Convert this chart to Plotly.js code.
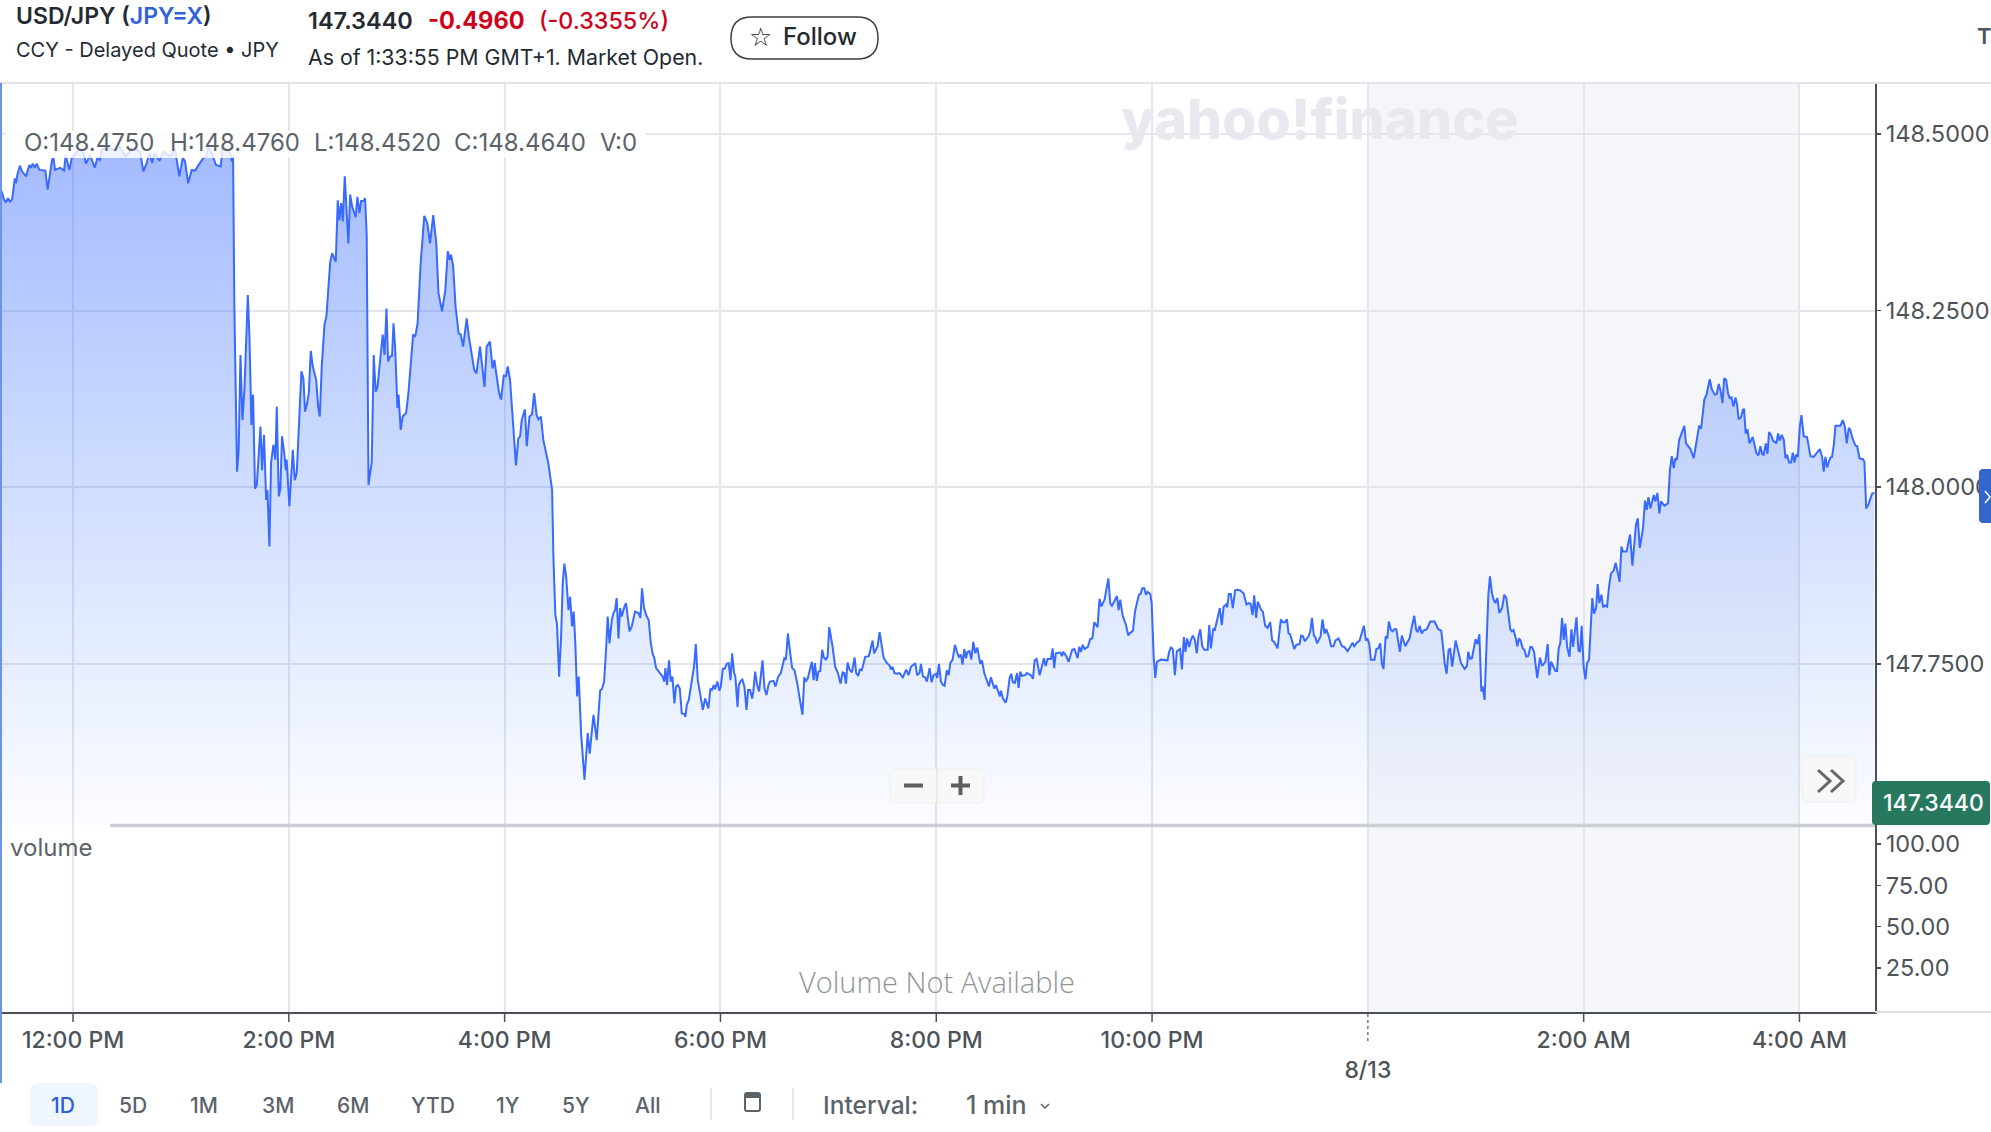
<!DOCTYPE html>
<html><head><meta charset="utf-8">
<script src="https://cdn.plot.ly/plotly-3.0.1.min.js"></script>
<style>html,body{margin:0;padding:0;background:#fff;overflow:hidden}</style>
</head><body><div id="chart" style="width:1991px;height:1132px"></div>
<script>
// [minutes after 12:00 PM, price]
const sessionNoon = [[-39.7,148.419],[-38.4,148.407],[-37.3,148.403],[-36.2,148.409],[-35.0,148.404],[-33.9,148.407],[-32.4,148.437],[-31.7,148.430],[-31.0,148.442],[-29.5,148.455],[-28.4,148.447],[-26.1,148.440],[-24.3,148.456],[-23.5,148.452],[-22.4,148.458],[-21.3,148.452],[-20.2,148.458],[-18.7,148.449],[-15.4,148.448],[-14.1,148.421],[-11.7,148.463],[-10.9,148.466],[-10.0,148.449],[-7.2,148.452],[-5.0,148.448],[-4.1,148.470],[-2.0,148.449],[-0.7,148.466],[0.6,148.470],[3.0,148.478],[5.8,148.473],[7.2,148.458],[9.5,148.470],[12.1,148.452],[13.5,148.466],[15.0,148.463],[15.9,148.478],[18.7,148.480],[22.4,148.478],[26.1,148.481],[29.5,148.468],[32.6,148.480],[37.3,148.475],[39.1,148.447],[41.0,148.459],[42.3,148.473],[44.1,148.459],[45.1,148.473],[48.0,148.462],[50.3,148.475],[54.0,148.468],[56.7,148.478],[59.1,148.440],[61.0,148.466],[62.3,148.461],[64.0,148.430],[66.0,148.449],[67.9,148.448],[70.6,148.459],[72.5,148.466],[74.0,148.468],[75.3,148.482],[77.1,148.473],[79.5,148.456],[82.1,148.454],[83.2,148.482],[87.3,148.473],[88.3,148.461],[89.0,148.468]];
const sessionDrop = [[89.7,148.256],[91.2,148.022],[92.1,148.053],[93.1,148.187],[94.2,148.095],[95.3,148.138],[97.2,148.272],[98.1,148.213],[99.2,148.088],[100.1,148.131],[101.2,147.998],[102.2,148.003],[104.2,148.086],[105.1,148.024],[106.2,148.074],[107.4,147.982],[108.1,147.996],[109.2,147.916],[110.1,148.034],[111.4,148.060],[112.5,148.039],[113.3,148.114],[114.4,147.987],[115.3,147.998],[116.2,148.072],[117.4,148.050],[118.3,148.024],[118.8,148.039],[120.3,147.973],[122.2,148.053],[123.3,148.010],[124.4,148.020],[127.0,148.164],[128.1,148.154],[129.0,148.107],[130.2,148.119],[131.1,148.133],[132.2,148.193],[133.3,148.171],[135.2,148.152],[136.3,148.114],[137.2,148.100],[138.3,148.171],[139.8,148.230],[140.9,148.242],[143.0,148.319],[144.1,148.331],[146.1,148.319],[147.2,148.406],[148.1,148.378],[149.1,148.402],[150.0,148.376],[151.1,148.440],[153.1,148.345],[154.1,148.414],[155.2,148.397],[157.2,148.382],[158.1,148.411],[159.3,148.388],[160.2,148.405],[161.5,148.405],[162.4,148.409],[163.3,148.357],[164.3,148.003],[166.1,148.036],[167.2,148.187],[168.3,148.135],[169.3,148.142],[170.8,148.185],[172.2,148.216],[173.2,148.187],[174.3,148.253],[175.2,148.178],[176.3,148.185],[177.4,148.186],[178.2,148.232],[179.1,148.199],[180.4,148.112],[181.0,148.131],[182.2,148.081],[183.3,148.100],[185.2,148.105],[186.5,148.133],[189.1,148.216],[190.3,148.213],[191.6,148.232],[193.3,148.317],[195.3,148.384],[197.0,148.374],[198.5,148.345],[200.3,148.385],[202.0,148.345],[203.2,148.275],[205.2,148.249],[207.0,148.279],[208.4,148.334],[209.4,148.322],[210.2,148.329],[211.4,148.312],[212.7,148.256],[214.4,148.218],[215.6,148.216],[216.9,148.199],[218.9,148.239],[220.1,148.213],[223.1,148.166],[224.3,148.161],[226.3,148.199],[228.8,148.142],[230.0,148.199],[231.8,148.206],[233.3,148.168],[234.3,148.180],[236.8,148.135],[238.0,148.124],[239.5,148.158],[240.7,148.157],[241.7,148.171],[243.0,148.152],[244.2,148.105],[246.3,148.031],[247.6,148.069],[248.6,148.072],[249.5,148.095],[251.3,148.110],[252.3,148.058],[253.8,148.100],[255.2,148.103],[256.4,148.133],[257.8,148.102],[258.8,148.096],[260.2,148.100],[261.5,148.067],[264.3,148.034],[265.6,148.010],[266.4,147.996]];
const sessionLow = [[267.1,147.902],[268.2,147.819],[269.1,147.807],[270.3,147.732],[271.4,147.789],[272.3,147.864],[273.2,147.892],[274.2,147.874],[275.5,147.826],[276.4,147.845],[277.5,147.803],[278.4,147.824],[279.3,147.779],[280.3,147.704],[281.2,147.732],[282.5,147.652],[284.4,147.586],[286.2,147.652],[287.3,147.623],[289.4,147.678],[291.2,147.642],[293.1,147.712],[294.2,147.715],[295.3,147.725],[296.4,147.770],[297.3,147.817],[298.3,147.779],[299.6,147.812],[300.5,147.822],[301.4,147.826],[302.3,147.843],[303.3,147.786],[304.2,147.829],[305.1,147.817],[306.6,147.831],[307.5,147.836],[309.4,147.796],[310.7,147.803],[312.5,147.824],[314.4,147.822],[315.5,147.815],[316.4,147.857],[317.5,147.829],[319.0,147.817],[320.1,147.812],[321.3,147.779],[322.4,147.763],[323.1,147.760],[324.2,147.744],[326.4,147.737],[327.9,147.732],[328.7,147.725],[329.4,147.744],[330.3,147.720],[331.4,147.755],[332.4,147.725],[333.3,147.732],[334.4,147.694],[335.3,147.718],[336.3,147.720],[337.4,147.715],[338.5,147.680],[340.0,147.679],[340.5,147.675],[341.3,147.692],[342.4,147.699],[343.5,147.718],[344.6,147.741],[345.3,147.746],[346.3,147.778],[347.4,147.727],[348.7,147.708],[350.2,147.685],[351.5,147.701],[353.3,147.687],[354.4,147.715],[355.2,147.713],[356.3,147.720],[356.9,147.714],[358.3,147.725],[359.4,147.712],[360.2,147.718],[361.3,147.743],[362.4,147.743],[363.5,147.750],[364.6,147.751],[365.6,147.727],[366.5,147.765],[367.6,147.737],[368.3,147.732],[369.5,147.689],[370.2,147.720],[371.3,147.726],[372.2,147.728],[373.3,147.718],[374.5,147.685],[375.4,147.713],[376.5,147.713],[377.6,147.701],[378.3,147.711],[379.3,147.739],[380.4,147.720],[381.5,147.711],[383.4,147.755],[384.5,147.715],[385.6,147.706],[386.7,147.720],[387.6,147.725],[389.5,147.726],[390.6,147.718],[392.1,147.732]];
const sessionEvening = [[393.6,147.737],[395.5,147.758],[396.4,147.756],[397.5,147.793],[398.8,147.765],[399.9,147.744],[401.2,147.741],[402.9,147.720],[404.3,147.697],[405.6,147.678],[406.6,147.731],[407.5,147.725],[408.6,147.730],[410.8,147.753],[411.8,147.727],[412.5,147.751],[413.6,147.726],[414.5,147.739],[415.5,147.740],[416.6,147.770],[417.5,147.759],[418.6,147.756],[419.6,147.760],[420.5,147.802],[422.3,147.775],[423.8,147.746],[425.3,147.737],[426.8,147.722],[427.9,147.738],[428.8,147.737],[429.8,147.722],[430.7,147.752],[431.8,147.742],[433.1,147.738],[434.6,147.759],[435.5,147.737],[436.6,147.733],[437.5,147.742],[438.6,147.741],[440.5,147.760],[442.5,147.761],[444.6,147.783],[445.5,147.765],[447.4,147.775],[448.5,147.795],[449.8,147.770],[450.7,147.759],[452.6,147.751],[454.0,147.748],[454.8,147.742],[455.7,147.746],[456.8,147.737],[458.1,147.736],[459.6,147.737],[461.4,147.731],[463.3,147.742],[464.6,147.734],[465.9,147.746],[468.3,147.751],[469.4,147.734],[470.7,147.737],[471.5,147.750],[472.6,147.732],[473.9,147.731],[474.8,147.725],[476.3,147.744],[477.4,147.724],[478.5,147.734],[480.0,147.736],[480.5,147.730],[481.5,147.750],[482.6,147.725],[483.7,147.720],[484.6,147.719],[485.9,147.741],[486.9,147.734],[487.8,147.751],[489.1,147.756],[490.4,147.777],[491.5,147.767],[492.6,147.760],[493.7,147.763],[494.6,147.749],[495.6,147.771],[496.5,147.758],[497.4,147.767],[498.5,147.768],[499.5,147.756],[500.6,147.781],[501.7,147.765],[502.8,147.773],[504.5,147.750],[505.4,147.755],[506.7,147.737],[507.8,147.728],[509.3,147.718],[510.4,147.731],[512.3,147.715],[513.2,147.720],[514.3,147.711],[515.4,147.704],[516.0,147.712],[517.1,147.701],[518.6,147.695],[519.5,147.704],[520.8,147.730],[521.7,147.736],[522.6,147.724],[523.7,147.723],[524.9,147.737],[525.8,147.716],[526.7,147.739],[527.6,147.733],[529.5,147.734],[530.4,147.737],[532.6,147.734],[533.8,147.729],[534.7,147.755],[535.8,147.757],[537.5,147.734],[539.0,147.749],[539.9,147.758],[540.8,147.747],[541.9,147.757],[543.8,147.757],[544.7,147.772],[545.6,147.744],[546.5,147.765],[549.0,147.766],[549.9,147.761],[550.6,147.767],[552.3,147.761],[553.6,147.753],[555.6,147.770],[556.8,147.771],[558.6,147.758],[559.5,147.774],[560.5,147.767],[561.4,147.777],[562.5,147.771],[564.3,147.774],[565.6,147.785],[566.8,147.786],[567.9,147.809],[569.7,147.802],[570.8,147.842],[571.8,147.831],[573.6,147.841],[575.7,147.871],[576.8,147.835],[577.7,147.832],[578.6,147.836],[580.5,147.846],[581.4,147.826],[582.3,147.841],[583.6,147.819],[585.5,147.805],[586.8,147.790],[587.5,147.793],[589.4,147.797],[590.5,147.824],[592.7,147.848],[593.6,147.849],[594.6,147.857],[595.7,147.857],[596.6,147.848],[597.5,147.852],[599.0,147.849],[599.8,147.836]];
const sessionNight = [[600.9,147.760],[601.8,147.730],[602.7,147.753],[604.9,147.756],[608.6,147.755],[609.5,147.767],[610.6,147.774],[611.6,147.770],[612.7,147.734],[613.8,147.768],[615.6,147.771],[616.6,147.742],[617.7,147.788],[618.6,147.767],[619.5,147.786],[620.7,147.774],[621.6,147.784],[622.7,147.790],[623.8,147.784],[624.9,147.765],[625.8,147.789],[626.8,147.799],[627.9,147.775],[629.0,147.770],[630.9,147.770],[631.8,147.805],[632.7,147.772],[634.0,147.799],[634.9,147.798],[636.8,147.822],[637.7,147.829],[638.8,147.805],[639.8,147.831],[641.2,147.834],[641.8,147.830],[642.7,147.849],[643.8,147.849],[644.9,147.829],[646.2,147.854],[647.5,147.855],[649.0,147.854],[650.9,147.850],[652.5,147.834],[653.8,147.836],[654.8,147.835],[655.9,147.819],[656.8,147.847],[657.9,147.815],[658.8,147.838],[660.5,147.827],[661.6,147.824],[662.9,147.804],[664.2,147.801],[665.7,147.809],[666.8,147.783],[667.9,147.781],[669.8,147.772],[671.6,147.813],[672.6,147.809],[673.9,147.809],[675.0,147.813],[675.9,147.793],[676.8,147.792],[679.1,147.771],[680.2,147.777],[682.0,147.778],[682.9,147.790],[683.9,147.789],[685.0,147.782],[687.0,147.789],[688.0,147.796],[688.9,147.815],[690.0,147.790],[690.9,147.787],[691.8,147.779],[693.7,147.789],[694.8,147.813],[695.9,147.793],[696.9,147.799],[698.3,147.789],[699.6,147.775],[700.9,147.775],[701.9,147.783],[703.7,147.786],[705.6,147.775],[706.9,147.774],[708.7,147.768],[710.2,147.774],[711.5,147.780],[712.4,147.775],[713.9,147.780],[715.4,147.783],[716.7,147.793],[717.8,147.804],[718.9,147.783],[719.8,147.786],[720.8,147.778],[721.7,147.756],[723.7,147.756],[724.7,147.771],[725.8,147.772],[726.9,147.779],[727.8,147.750],[728.7,147.743],[729.9,147.789],[730.8,147.786],[731.7,147.810],[732.8,147.798],[733.8,147.796],[734.7,147.799],[735.8,147.799],[736.9,147.782],[737.8,147.767],[738.9,147.790],[739.9,147.782],[740.8,147.775],[742.3,147.782],[743.2,147.786],[744.5,147.803],[745.8,147.818],[746.9,147.798],[747.7,147.795],[748.8,147.804],[749.9,147.793],[751.0,147.797],[752.8,147.799],[754.7,147.810],[757.1,147.810],[759.1,147.799],[760.8,147.797],[761.7,147.777],[762.7,147.751],[763.8,147.736],[764.9,147.770],[765.8,147.771],[766.9,147.746],[768.8,147.783],[769.9,147.770],[771.8,147.751],[773.8,147.743],[775.1,147.747],[775.8,147.767],[776.9,147.757],[777.9,147.758],[779.9,147.785],[781.0,147.778],[782.0,147.792],[783.1,147.711],[783.8,147.718],[784.9,147.699],[786.4,147.812],[787.0,147.848],[787.9,147.874],[789.0,147.850],[789.9,147.841],[790.9,147.836],[792.0,147.843],[793.1,147.822],[794.6,147.829],[795.9,147.848],[797.0,147.843],[798.1,147.824],[799.2,147.799],[800.1,147.796],[801.0,147.798],[802.3,147.786],[803.1,147.775],[804.0,147.786],[804.9,147.783],[806.1,147.772],[807.0,147.770],[808.1,147.760],[809.2,147.761],[810.3,147.774],[811.2,147.774],[812.4,147.767],[814.2,147.730],[815.7,147.759]];
const sessionDawn = [[816.9,147.747],[818.7,147.753],[820.0,147.778],[820.9,147.734],[821.9,147.753],[824.3,147.740],[825.2,147.740],[826.1,147.772],[827.0,147.779],[828.0,147.815],[828.9,147.784],[829.8,147.807],[830.8,147.774],[832.1,147.760],[833.2,147.799],[834.1,147.774],[836.0,147.816],[837.1,147.769],[838.0,147.767],[838.9,147.804],[840.0,147.746],[841.0,147.728],[841.9,147.751],[843.0,147.756],[844.8,147.843],[845.8,147.821],[846.9,147.829],[847.8,147.863],[848.7,147.836],[849.9,147.848],[850.8,147.830],[851.9,147.833],[853.0,147.831],[854.1,147.859],[855.2,147.878],[856.7,147.882],[857.8,147.893],[860.0,147.866],[861.0,147.916],[861.9,147.909],[863.9,147.909],[865.8,147.933],[867.1,147.889],[869.1,147.947],[870.1,147.956],[871.2,147.914],[873.0,147.942],[874.1,147.981],[875.1,147.968],[876.0,147.986],[877.1,147.970],[879.0,147.989],[879.9,147.980],[881.0,147.992],[882.1,147.963],[883.0,147.980],[884.9,147.974],[886.9,147.977],[888.0,148.025],[889.0,148.044],[890.1,148.027],[891.0,148.041],[891.9,148.039],[893.1,148.067],[894.2,148.074],[896.0,148.087],[896.9,148.062],[899.4,148.054],[901.2,148.041],[904.2,148.087],[905.3,148.083],[907.1,148.124],[908.3,148.131],[910.1,148.153],[911.2,148.139],[912.9,148.131],[914.0,148.132],[915.1,148.146],[916.0,148.138],[917.2,148.119],[918.1,148.154],[919.2,148.152],[920.3,148.133],[921.2,148.126],[922.2,148.127],[923.3,148.114],[924.4,148.127],[925.3,148.117],[926.2,148.096],[927.5,148.099],[928.6,148.110],[929.2,148.110],[930.1,148.076],[931.1,148.082],[932.2,148.062],[934.0,148.071],[936.1,148.048],[937.2,148.045],[938.3,148.058],[939.2,148.047],[940.1,148.046],[941.3,148.062],[942.2,148.047],[943.1,148.078],[944.2,148.074],[945.3,148.066],[947.2,148.062],[948.1,148.076],[949.0,148.066],[950.2,148.074],[951.3,148.067],[952.2,148.041],[953.1,148.046],[954.2,148.035],[955.3,148.035],[956.3,148.049],[957.2,148.035],[958.1,148.046],[959.1,148.043],[960.2,148.086],[961.1,148.102],[962.4,148.072],[964.2,148.071],[966.1,148.044],[967.9,148.043],[970.4,148.050],[971.3,148.054],[972.6,148.043],[973.5,148.022],[974.4,148.043],[975.4,148.028],[977.2,148.042],[978.1,148.043],[979.1,148.060],[980.0,148.087],[982.8,148.087],[984.1,148.095],[985.2,148.086],[986.3,148.062],[987.4,148.084],[988.3,148.081],[989.5,148.069],[991.1,148.059],[992.1,148.058],[993.4,148.041],[994.3,148.040],[995.2,148.040],[996.1,148.036],[997.1,147.970],[998.4,147.976],[1000.4,147.991],[1001.7,147.992]];

const priceTicks = [148.5, 148.25, 148.0, 147.75];
const volumeTicks = [100, 75, 50, 25];
const timeTickMinutes = [0, 120, 240, 360, 480, 600, 720, 840, 960];
const timeTickLabels = ['12:00 PM','2:00 PM','4:00 PM','6:00 PM','8:00 PM','10:00 PM','<br>8/13','2:00 AM','4:00 AM'];
const rangeButtons = [['5D',133],['1M',204],['3M',278],['6M',353],['YTD',433],['1Y',508],['5Y',576],['All',647]];
const ohlc = [['O:148.4750',24],['H:148.4760',170],['L:148.4520',314],['C:148.4640',454],['V:0',600]];

const BASE = Date.UTC(2025, 7, 12, 12, 0, 0);
const toDate = m => new Date(BASE + m * 60000).toISOString();
const tape = [].concat(sessionNoon, sessionDrop, sessionLow, sessionEvening, sessionNight, sessionDawn);

const W = 1991, H = 1132;
const px = x => x / W, py = y => 1 - y / H;
const FONT = 'Inter, "Noto Sans", sans-serif';
const INK = '#4d5359', GRID = '#e4e6eb', AXIS = '#4a4f57';

function rr(x0, y0, x1, y1, r) {
  const X = px, Y = py;
  return `M${X(x0 + r)},${Y(y0)} L${X(x1 - r)},${Y(y0)} Q${X(x1)},${Y(y0)} ${X(x1)},${Y(y0 + r)} L${X(x1)},${Y(y1 - r)} Q${X(x1)},${Y(y1)} ${X(x1 - r)},${Y(y1)} L${X(x0 + r)},${Y(y1)} Q${X(x0)},${Y(y1)} ${X(x0)},${Y(y1 - r)} L${X(x0)},${Y(y0 + r)} Q${X(x0)},${Y(y0)} ${X(x0 + r)},${Y(y0)} Z`;
}
function poly(points) {
  return 'M' + points.map(p => px(p[0]) + ',' + py(p[1])).join(' L');
}
const pRect = (d, fill, line, lw, layer) => ({type:'path', xref:'paper', yref:'paper', path:d, fillcolor:fill || 'rgba(0,0,0,0)', line:{color:line || 'rgba(0,0,0,0)', width:lw || 0}, layer:layer || 'above'});
const pLine = (x0, y0, x1, y1, color, w, dash, layer) => ({type:'line', xref:'paper', yref:'paper', x0:px(x0), y0:py(y0), x1:px(x1), y1:py(y1), line:{color, width:w, dash:dash || 'solid'}, layer:layer || 'above'});

const text = (t, x, y, size, color, opt) => {
  const o = opt || {};
  const shift = (o.xanchor || 'left') === 'left' ? 2.5 : 0;
  return Object.assign({xref:'paper', yref:'paper', x:px(x - shift), y:py(y), xanchor:'left', yanchor:'middle', text:t, showarrow:false, font:{family:FONT, size, color}}, o);
};
const weighted = (t, x, y, size, color, weight, anchor) => { const a = text(t, x, y, size, color, {xanchor:anchor || 'left'}); a.font.weight = weight; return a; };

const shapes = [
  {type:'rect', xref:'x', yref:'paper', x0:toDate(720), x1:toDate(960), y0:py(83), y1:py(1012), fillcolor:'#f5f6fa', line:{width:0}, layer:'below'},
  pLine(0, 83, W, 83, '#e2e4e9', 2),
  pLine(1875, 1012, W, 1012, '#dcdee3', 2),
  pLine(1, 83, 1, 1083, '#3b6fe0', 1.5),
  pLine(110, 825.5, 1875, 825.5, '#cbced2', 3.5),
  pRect(`M${px(5)},${py(131)} L${px(646)},${py(131)} L${px(646)},${py(158)} L${px(5)},${py(158)} Z`, 'rgba(255,255,255,0.82)'),
  // zoom buttons
  pRect(rr(890, 769, 984, 803, 4), '#f8f8f8', '#efefef', 1),
  pLine(937, 769, 937, 803, '#e6e6e6', 1.5),
  pLine(904, 785.5, 923, 785.5, '#5e5e5e', 4),
  pLine(951, 785.5, 970, 785.5, '#5e5e5e', 4),
  pLine(960.5, 776, 960.5, 795, '#5e5e5e', 4),
  // scroll-to-end button
  pRect(rr(1802, 757, 1856, 802, 6), '#f8f8f8', '#efefef', 1),
  pRect(poly([[1818, 770], [1830, 781], [1818, 792]]), null, '#666', 3),
  pRect(poly([[1831, 770], [1843, 781], [1831, 792]]), null, '#666', 3),
  // current price tag and side tab
  pRect(rr(1872, 781, 1990, 825, 4), '#27785f'),
  pRect(rr(1979, 469, 2000, 523, 4), '#3366cc'),
  pRect(poly([[1985, 491], [1990, 497], [1985, 503]]), null, '#fff', 1.5),
  // follow button
  pRect(rr(731, 17, 878, 59, 21), '#fff', '#3a3f45', 1.5),
  // bottom toolbar
  pRect(rr(30, 1083, 98, 1126, 8), '#f0f6ff'),
  pLine(711, 1088, 711, 1120, '#e0e1e4', 1.5),
  pLine(793, 1088, 793, 1120, '#e0e1e4', 1.5),
  pRect(rr(745, 1093, 760, 1111, 2), null, '#5b636a', 2),
  pRect(rr(745, 1093, 760, 1098, 1), '#5b636a'),
  pRect(poly([[1041, 1104], [1045, 1108], [1049, 1104]]), null, '#5b636a', 1.5)
];
// x-axis tick marks; the day boundary uses a dotted mark
timeTickMinutes.forEach(m => {
  const mid = m === 720;
  shapes.push({type:'line', xref:'x', yref:'paper', x0:toDate(m), x1:toDate(m), y0:py(mid ? 1014 : 1012), y1:py(mid ? 1044 : 1022), line:{color: mid ? '#777' : AXIS, width: 1.5, dash: mid ? 'dot' : 'solid'}, layer:'above'});
});

const annotations = [
  weighted('USD/JPY (<span style="color:#2f63d6">JPY=X</span>)', 16, 16, 23, '#232a31', 600),
  text('CCY - Delayed Quote • JPY', 16, 50, 20, '#232a31'),
  weighted('147.3440', 308, 20, 23.5, '#232a31', 600),
  weighted('-0.4960', 428, 20, 23.6, '#d0021b', 700),
  weighted('(-0.3355%)', 539, 20, 23.3, '#d0021b', 500),
  text('As of 1:33:55 PM GMT+1. Market Open.', 308, 57, 21.3, '#232a31'),
  text('☆', 749, 37, 26, '#232a31', {font:{family:'DejaVu Sans', size:26, color:'#232a31'}}),
  weighted('Follow', 783, 36, 24, '#232a31', 500),
  weighted('T', 1977, 36, 22, '#4d5359', 600),
  weighted('yahoo!finance', 1319, 119, 55.3, '#e8e9ee', 800, 'center'),
  text('volume', 10, 847, 24, '#5b636a'),
  text('Volume Not Available', 937, 981, 29, '#909599', {xanchor:'center', font:{family:'"Open Sans", sans-serif', size:29, color:'#909599', weight:300}}),
  weighted('147.3440', 1933, 803, 23, '#ffffff', 500, 'center'),
  weighted('1D', 63, 1105, 21, '#2f5fd0', 500, 'center'),
  weighted('Interval:', 823, 1105, 24.5, '#5b636a', 500),
  weighted('1 min', 966, 1105, 25, '#5b636a', 500)
];
ohlc.forEach(o => annotations.push(text(o[0], o[1], 142, 24, '#5b636a')));
rangeButtons.forEach(b => annotations.push(weighted(b[0], b[1], 1105, 21, '#5b636a', 500, 'center')));

const traces = [
  {type:'scatter', mode:'lines', xaxis:'x', yaxis:'y', x:tape.map(p => toDate(p[0])), y:tape.map(p => p[1]),
   line:{color:'#396aff', width:2, shape:'linear'}, fill:'tozeroy',
   fillgradient:{type:'vertical', start:147.522, stop:148.505, colorscale:[[0,'rgba(60,125,255,0.02)'],[1,'rgba(60,108,255,0.48)']]},
   hoverinfo:'skip'},
  {type:'scatter', mode:'lines', xaxis:'x2', yaxis:'y2', x:[toDate(0)], y:[null], hoverinfo:'skip'}
];

const xRange = [toDate(-39.5), toDate(1002)];
const tickDates = timeTickMinutes.map(toDate);
const layout = {
  width:W, height:H, margin:{l:0, r:0, t:0, b:0},
  paper_bgcolor:'#fff', plot_bgcolor:'rgba(0,0,0,0)', showlegend:false, hovermode:false,
  font:{family:FONT, color:INK},
  xaxis:{type:'date', domain:[px(2), px(1875)], range:xRange, anchor:'y', tickmode:'array', tickvals:tickDates, ticktext:timeTickLabels,
         showticklabels:false, ticks:'', showgrid:true, gridcolor:GRID, gridwidth:2, zeroline:false, showline:false},
  xaxis2:{type:'date', domain:[px(2), px(1875)], range:xRange, anchor:'y2', tickmode:'array', tickvals:tickDates, ticktext:timeTickLabels,
         showticklabels:true, ticks:'outside', ticklen:6, tickcolor:'rgba(0,0,0,0)', tickangle:0, tickfont:{family:FONT, size:23, color:INK, weight:500},
         showgrid:true, gridcolor:GRID, gridwidth:2, zeroline:false, showline:true, linecolor:AXIS, linewidth:2},
  yaxis:{domain:[py(825), py(83)], range:[147.522, 148.572], anchor:'x', side:'right', tickmode:'array', tickvals:priceTicks, tickformat:'.4f',
         ticks:'outside', ticklen:4, tickcolor:AXIS, tickwidth:1.5, tickfont:{family:FONT, size:23.5, color:INK},
         showgrid:true, gridcolor:GRID, gridwidth:2, zeroline:false, showline:true, linecolor:AXIS, linewidth:2},
  yaxis2:{domain:[py(1012), py(825)], range:[-1.6, 111.5], anchor:'x2', side:'right', tickmode:'array', tickvals:volumeTicks, tickformat:'.2f',
         ticks:'outside', ticklen:4, tickcolor:AXIS, tickwidth:1.5, tickfont:{family:FONT, size:23.5, color:INK},
         showgrid:false, zeroline:false, showline:true, linecolor:AXIS, linewidth:2},
  shapes, annotations
};
Plotly.newPlot('chart', traces, layout, {displayModeBar:false, staticPlot:true});
</script></body></html>
